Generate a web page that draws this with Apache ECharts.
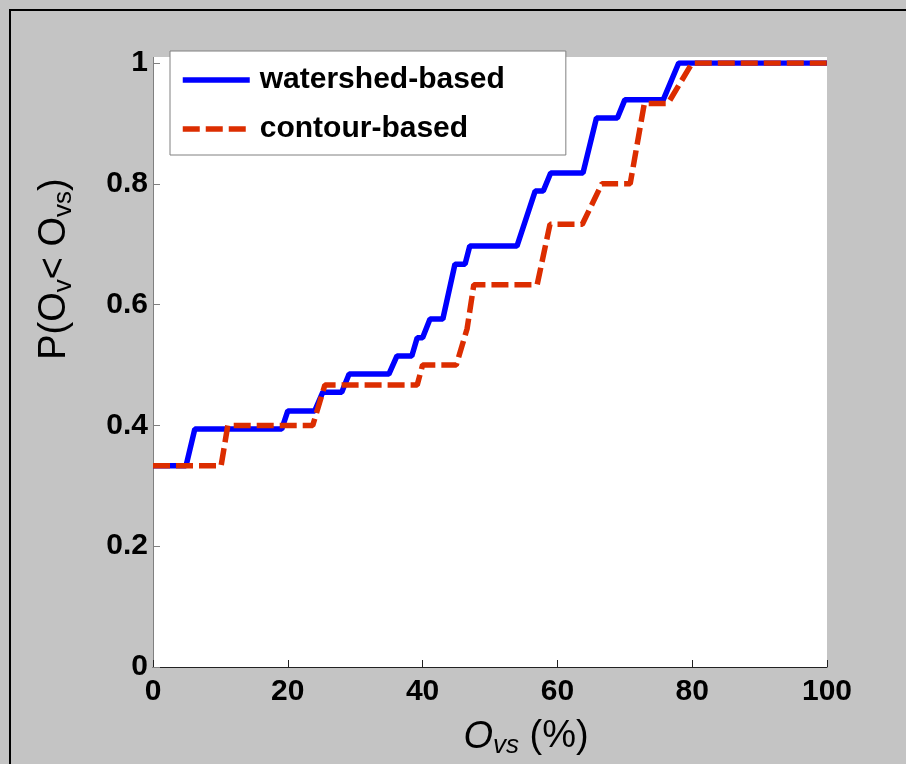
<!DOCTYPE html>
<html>
<head>
<meta charset="utf-8">
<script src="https://cdn.jsdelivr.net/npm/echarts@6/dist/echarts.min.js"></script>
<style>
    html, body { margin: 0; padding: 0; background: #c4c4c4; }
    #chart { width: 906px; height: 764px; }
</style>
</head>
<body>
<div id="chart"></div>
<script>
"use strict";
// 数据：两条累积分布曲线（读图得到的拐点）
var seriesNames = ['watershed-based', 'contour-based'];
var watershedX = [0, 4.9, 6.2, 19.1, 20, 24, 25.2, 28, 29.1, 35, 36.2, 38.4, 39.2, 40, 41.1, 43, 44.8, 46.3, 47, 54, 56.7, 57.9, 59, 63.8, 65.8, 68.9, 70, 75.7, 78, 100];
var watershedP = [0.333, 0.333, 0.394, 0.394, 0.424, 0.424, 0.455, 0.455, 0.485, 0.485, 0.515, 0.515, 0.545, 0.545, 0.576, 0.576, 0.667, 0.667, 0.697, 0.697, 0.788, 0.788, 0.818, 0.818, 0.909, 0.909, 0.939, 0.939, 1, 1];
var contourX = [0, 10.1, 11.1, 23.7, 25.5, 39.2, 40, 45, 46.6, 47.6, 57, 58.9, 63.7, 66.6, 70.8, 72.9, 76.4, 80, 100];
var contourP = [0.333, 0.333, 0.4, 0.4, 0.467, 0.467, 0.5, 0.5, 0.56, 0.633, 0.633, 0.733, 0.733, 0.8, 0.8, 0.933, 0.933, 1, 1];
var xTicks = { min: 0, max: 100, interval: 20 };
var yTicks = { min: 0, max: 1, interval: 0.2 };

var FONT = '"Liberation Sans", Arial, sans-serif';

function zipXY(xs, ys) {
    return xs.map(function (x, i) { return [x, ys[i]]; });
}

function initGraph() {
    var myChart = echarts.init(document.getElementById('chart'), null, { renderer: 'canvas' });
    var option = {
        backgroundColor: '#c4c4c4',
        animation: false,
        grid: {
            left: 153, right: 79, top: 63, bottom: 97,
            show: true, backgroundColor: '#fff', borderWidth: 0,
            outerBoundsMode: 'none'
        },
        legend: {
            data: seriesNames,
            orient: 'vertical',
            left: 170, top: 51,
            padding: [14, 61, 11, 10],
            itemGap: 19,
            itemWidth: 67, itemHeight: 14,
            backgroundColor: '#fff',
            borderColor: '#808080', borderWidth: 1,
            itemStyle: { opacity: 0 },
            lineStyle: { width: 5.5 },
            textStyle: {
                fontFamily: FONT, fontSize: 30, fontWeight: 'bold', color: '#000',
                lineHeight: 30, padding: [0, 0, 0, 5]
            }
        },
        xAxis: {
            type: 'value',
            min: xTicks.min, max: xTicks.max, interval: xTicks.interval,
            axisLine: { show: true, lineStyle: { color: '#222', width: 1 } },
            axisTick: { show: true, inside: true, length: 7, lineStyle: { color: '#222' } },
            axisLabel: { fontFamily: FONT, fontSize: 30, fontWeight: 'bold', color: '#000', margin: 10 },
            splitLine: { show: false }
        },
        yAxis: {
            type: 'value',
            min: yTicks.min, max: yTicks.max, interval: yTicks.interval,
            axisLine: { show: true, lineStyle: { color: '#808080', width: 1 } },
            axisTick: { show: true, inside: true, length: 7, lineStyle: { color: '#808080' } },
            axisLabel: { fontFamily: FONT, fontSize: 30, fontWeight: 'bold', color: '#000', margin: 5 },
            splitLine: { show: false }
        },
        series: [
            {
                name: seriesNames[0],
                type: 'line',
                data: zipXY(watershedX, watershedP),
                symbol: 'none', showSymbol: false,
                color: '#0000ff',
                lineStyle: { color: '#0000ff', width: 5.5, type: 'solid' }
            },
            {
                name: seriesNames[1],
                type: 'line',
                data: zipXY(contourX, contourP),
                symbol: 'none', showSymbol: false,
                color: '#dc2d00',
                lineStyle: { color: '#dc2d00', width: 5.5, type: [17, 6] }
            }
        ],
        graphic: [
            // 外框（上、左黑线）
            {
                type: 'rect', z: 100,
                shape: { x: 10, y: 10, width: 1200, height: 1200 },
                style: { fill: 'none', stroke: '#000', lineWidth: 2 }
            },
            // 坐标区上沿多出的白边
            {
                type: 'rect', z: 1,
                shape: { x: 154, y: 57, width: 673, height: 6 },
                style: { fill: '#fff' }
            },
            {
                type: 'line', z: 1,
                shape: { x1: 153.5, y1: 57, x2: 153.5, y2: 63 },
                style: { stroke: '#808080', lineWidth: 1 }
            },
            // y轴标题
            {
                type: 'text', z: 10,
                x: 55, y: 269, rotation: Math.PI / 2,
                style: {
                    text: '{n|P(O}{s|v}{n|< O}{s|vs}{n|)}',
                    align: 'center', verticalAlign: 'middle',
                    rich: {
                        n: { fontFamily: FONT, fontSize: 38, lineHeight: 44, fill: '#000' },
                        s: { fontFamily: FONT, fontSize: 26, lineHeight: 20, verticalAlign: 'bottom', fill: '#000' }
                    }
                }
            },
            // x轴标题
            {
                type: 'text', z: 10,
                x: 526, y: 737,
                style: {
                    text: '{i|O}{s|vs}{n| (%)}',
                    align: 'center', verticalAlign: 'middle',
                    rich: {
                        i: { fontFamily: FONT, fontSize: 38, fontStyle: 'italic', lineHeight: 44, fill: '#000' },
                        s: { fontFamily: FONT, fontSize: 26, fontStyle: 'italic', lineHeight: 20, verticalAlign: 'bottom', fill: '#000' },
                        n: { fontFamily: FONT, fontSize: 38, lineHeight: 44, fill: '#000' }
                    }
                }
            }
        ]
    };
    myChart.setOption(option);
    return myChart;
}

var myChart = initGraph();
window.onresize = function () {
    myChart.resize();
};
</script>
</body>
</html>
